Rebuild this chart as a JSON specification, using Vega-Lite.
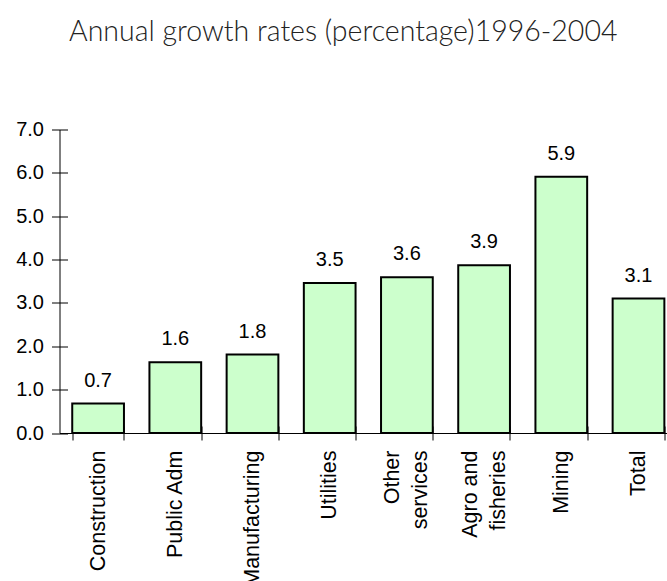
{
  "$schema": "https://vega.github.io/schema/vega-lite/v6.json",
  "width": 607.5,
  "height": 303.5,
  "autosize": {"type": "none"},
  "padding": {"left": 59.5, "top": 129.5, "right": 0, "bottom": 148},
  "background": "white",
  "title": {
    "text": "Annual growth rates (percentage)1996-2004",
    "font": "Lato",
    "fontWeight": 300,
    "fontSize": 28.5,
    "color": "#222222",
    "anchor": "middle",
    "frame": "group",
    "dx": -20,
    "offset": 73
  },
  "config": {
    "view": {"stroke": null},
    "axis": {"labelFont": "Liberation Sans", "labelFontSize": 20, "labelColor": "black", "domainColor": "black", "tickColor": "black", "grid": false, "title": null}
  },
  "data": {
    "values": [
      {"sector": "Construction", "rate": 0.68},
      {"sector": "Public Adm", "rate": 1.63},
      {"sector": "Manufacturing", "rate": 1.81},
      {"sector": "Utilities", "rate": 3.46},
      {"sector": "Other services", "rate": 3.59},
      {"sector": "Agro and fisheries", "rate": 3.87},
      {"sector": "Mining", "rate": 5.91},
      {"sector": "Total", "rate": 3.1}
    ]
  },
  "encoding": {
    "x": {"field": "sector", "type": "nominal", "sort": null,
      "scale": {"range": [0, 617.6], "paddingInner": 0.33, "paddingOuter": 0.165}},
    "y": {"field": "rate", "type": "quantitative", "scale": {"domain": [0, 7], "nice": false}}
  },
  "layer": [
    {
      "mark": {"type": "bar", "fill": "#CCFFCC", "stroke": "black", "strokeWidth": 2},
      "encoding": {
        "x": {"field": "sector", "type": "nominal", "sort": null,
          "axis": {"orient": "bottom", "labelAngle": -90, "labelAlign": "right", "labelBaseline": "middle",
            "labelFontSize": 21.5,
            "tickBand": "extent", "tickSize": 7, "labelPadding": 10, "labelLineHeight": 28,
            "labelOffset": {"condition": {"test": "datum.value == 'Other services' || datum.value == 'Agro and fisheries'", "value": -14}, "value": 0},
            "labelExpr": "datum.label == 'Other services' ? ['Other', 'services'] : datum.label == 'Agro and fisheries' ? ['Agro and', 'fisheries'] : datum.label"}},
        "y": {"field": "rate", "type": "quantitative",
          "axis": {"orient": "left", "values": [0, 1, 2, 3, 4, 5, 6, 7], "format": ".1f", "tickSize": 8, "labelPadding": 8}}
      }
    },
    {
      "mark": {"type": "text", "font": "Liberation Sans", "fontSize": 20, "color": "black", "baseline": "alphabetic", "dy": -17},
      "encoding": {
        "x": {"field": "sector", "type": "nominal", "sort": null,
          "axis": {"orient": "bottom", "labels": false, "domain": false, "tickBand": "extent", "tickSize": -7}},
        "y": {"field": "rate", "type": "quantitative",
          "axis": {"orient": "left", "labels": false, "domain": false, "values": [0, 1, 2, 3, 4, 5, 6, 7], "tickSize": -8}},
        "text": {"field": "rate", "type": "quantitative", "format": ".1f"}
      }
    }
  ],
  "resolve": {"axis": {"x": "independent", "y": "independent"}}
}
